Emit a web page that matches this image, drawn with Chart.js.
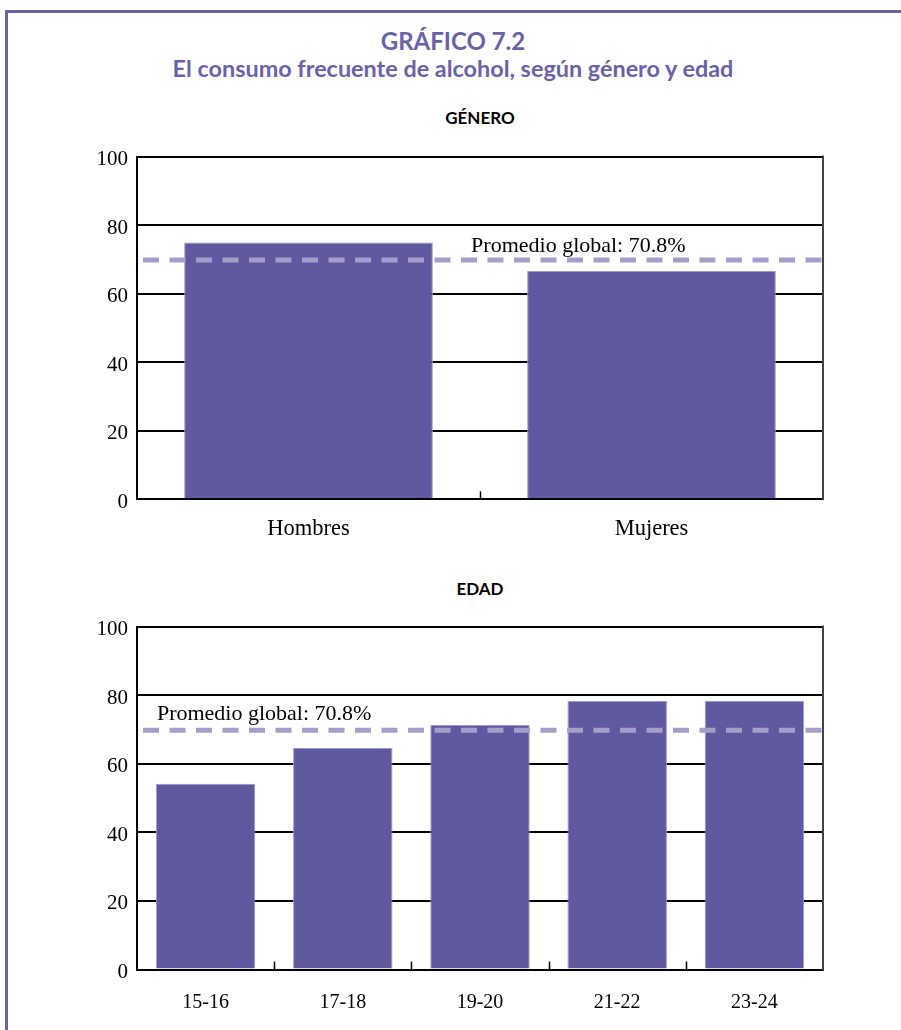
<!DOCTYPE html>
<html lang="es">
<head>
<meta charset="utf-8">
<title>Gráfico 7.2</title>
<script src="https://cdn.jsdelivr.net/npm/chart.js@4/dist/chart.umd.min.js"></script>
<style>
    body { margin: 0; background: #fff; }
    #page { position: relative; width: 901px; height: 1030px; overflow: hidden; }
    #frame {
        position: absolute; left: 5px; top: 10px; right: 0; bottom: 0;
        border-top: 3px solid #6a63aa; border-left: 3px solid #6a63aa;
    }
    .title {
        position: absolute; left: 5px; right: 0; text-align: center;
        font-family: Lato, "Open Sans", sans-serif; font-weight: bold;
        color: #6a62a8; white-space: nowrap;
    }
    .sub {
        position: absolute; left: 137px; width: 686px; text-align: center;
        font-family: Lato, "Open Sans", sans-serif; font-weight: bold;
        font-size: 17px; color: #000;
    }
    canvas { position: absolute; left: 0; }
</style>
</head>
<body>
<div id="page">
    <div id="frame"></div>
    <div class="title" style="top:27px;font-size:24px;line-height:28px">GRÁFICO 7.2</div>
    <div class="title" style="top:54px;font-size:23.4px;line-height:28px">El consumo frecuente de alcohol, según género y edad</div>
    <div class="sub" style="top:107px">GÉNERO</div>
    <div class="sub" style="top:578px">EDAD</div>
    <canvas id="genderChart" width="901" height="420" style="top:135px"></canvas>
    <canvas id="ageChart" width="901" height="425" style="top:605px"></canvas>
</div>
<script>
const genderLabels = ["Hombres", "Mujeres"];
const genderValues = [74.9, 66.7];

const ageLabels = ["15-16", "17-18", "19-20", "21-22", "23-24"];
const ageValues = [54.2, 64.6, 71.3, 78.3, 78.4];

const yMin = 0, yMax = 100, yStep = 20;

// where the dashed line sits, and its caption
const averageValue = 69.8;
const averageText = "Promedio global: 70.8%";

Chart.defaults.font.family = "'Liberation Serif', 'Times New Roman', serif";
Chart.defaults.color = "#000";

// dashed average line plus caption, over the bars
const averagePlugin = {
    id: "averageLine",
    afterDatasetsDraw(chart, args, opts) {
        const { ctx, chartArea } = chart;
        const y = chart.scales.y.getPixelForValue(opts.value);
        ctx.save();
        ctx.strokeStyle = "#a59ecb";
        ctx.lineWidth = 5;
        ctx.setLineDash([16, 10.5]);
        ctx.beginPath();
        ctx.moveTo(chartArea.left + 6, y);
        ctx.lineTo(chartArea.right - 1, y);
        ctx.stroke();
        ctx.setLineDash([]);
        ctx.fillStyle = "#000";
        ctx.font = "22px 'Liberation Serif', serif";
        ctx.textBaseline = "alphabetic";
        ctx.fillText(opts.text, chartArea.left + opts.labelX * (chartArea.right - chartArea.left), y - opts.labelDy);
        ctx.restore();
    }
};

// right edge of the box and the small inner ticks on the category axis
const framePlugin = {
    id: "frame",
    afterDatasetsDraw(chart) {
        const { ctx, chartArea } = chart;
        const x = chart.scales.x;
        ctx.save();
        ctx.strokeStyle = "#444";
        ctx.lineWidth = 2;
        ctx.beginPath();
        ctx.moveTo(chartArea.right, chartArea.top - 1);
        ctx.lineTo(chartArea.right, chartArea.bottom + 1);
        ctx.stroke();
        ctx.strokeStyle = "#000";
        ctx.lineWidth = 1.5;
        const n = chart.data.labels.length;
        for (let i = 0; i < n - 1; i++) {
            const px = Math.round((x.getPixelForValue(i) + x.getPixelForValue(i + 1)) / 2) + 0.5;
            ctx.beginPath();
            ctx.moveTo(px, chartArea.bottom);
            ctx.lineTo(px, chartArea.bottom - 8);
            ctx.stroke();
        }
        ctx.restore();
    }
};

function makeChart(id, labels, values, cfg) {
    return new Chart(document.getElementById(id), {
        type: "bar",
        data: {
            labels: labels,
            datasets: [{
                data: values,
                backgroundColor: "#5f59a0",
                borderColor: "#9d98cc",
                borderWidth: 1,
                categoryPercentage: 0.725,
                barPercentage: 1
            }]
        },
        options: {
            responsive: false,
            animation: false,
            layout: { padding: { left: 0, right: 78, top: cfg.top, bottom: 0 } },
            plugins: {
                legend: { display: false },
                tooltip: { enabled: false },
                averageLine: { value: averageValue, text: averageText, labelX: cfg.labelX, labelDy: cfg.labelDy }
            },
            scales: {
                x: {
                    grid: { display: false },
                    border: { display: true, color: "#000", width: 2 },
                    ticks: { font: { size: cfg.xFont }, padding: cfg.xPad },
                    afterFit(scale) { scale.height = cfg.xHeight; }
                },
                y: {
                    min: yMin,
                    max: yMax,
                    grid: { color: "#000", lineWidth: 2, drawTicks: false },
                    border: { display: true, color: "#000", width: 2 },
                    ticks: { stepSize: yStep, font: { size: 21 }, padding: 9, labelOffset: 3 },
                    afterFit(scale) { scale.width = 137; }
                }
            }
        },
        plugins: [averagePlugin, framePlugin]
    });
}

makeChart("genderChart", genderLabels, genderValues,
    { top: 19.5, xHeight: 55.7, xFont: 22.5, xPad: 8, labelX: 0.487, labelDy: 8 });
makeChart("ageChart", ageLabels, ageValues,
    { top: 19.3, xHeight: 60.5, xFont: 20, xPad: 13, labelX: 0.029, labelDy: 10.5 });
</script>
</body>
</html>
